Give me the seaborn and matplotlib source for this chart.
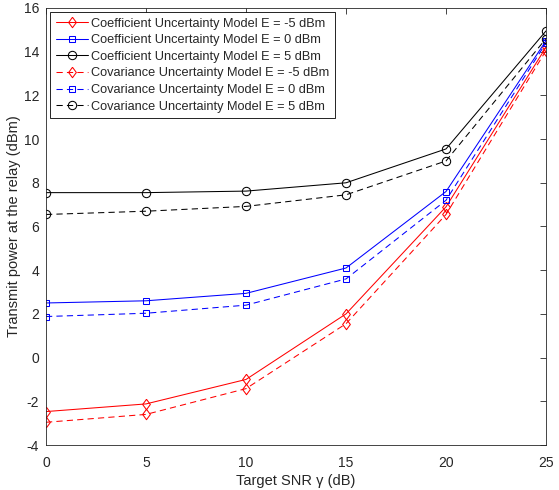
import numpy as np
import pandas as pd
import matplotlib
matplotlib.use("Agg")
import matplotlib.pyplot as plt
import seaborn as sns

snr = [0, 5, 10, 15, 20, 25]
coef_m5 = [-2.47, -2.12, -1.0, 2.0, 6.9, 14.2]
coef_0 = [2.5, 2.6, 2.94, 4.1, 7.6, 14.5]
coef_5 = [7.55, 7.55, 7.62, 8.0, 9.55, 14.95]
cov_m5 = [-2.96, -2.6, -1.42, 1.55, 6.55, 14.05]
cov_0 = [1.88, 2.03, 2.4, 3.6, 7.2, 14.4]
cov_5 = [6.55, 6.7, 6.92, 7.45, 9.0, 14.6]

labels = [
    "Coefficient Uncertainty Model E = -5 dBm",
    "Coefficient Uncertainty Model E = 0 dBm",
    "Coefficient Uncertainty Model E = 5 dBm",
    "Covariance Uncertainty Model E = -5 dBm",
    "Covariance Uncertainty Model E = 0 dBm",
    "Covariance Uncertainty Model E = 5 dBm",
]
series = [coef_m5, coef_0, coef_5, cov_m5, cov_0, cov_5]
colors = ["#ff0000", "#0000ff", "#000000", "#ff0000", "#0000ff", "#000000"]

# matlab-like markers: taller-than-wide diamond, square, circle
diamond = [(0, 1), (0.74, 0), (0, -1), (-0.74, 0), (0, 1)]
markers = [diamond, "s", "o", diamond, "s", "o"]
msizes = [7.5, 5, 6, 7.5, 5, 6]
dash = (0, (4.5, 3))
styles = ["-", "-", "-", dash, dash, dash]

df = pd.DataFrame({
    "snr": snr * len(series),
    "power": np.concatenate(series),
    "model": np.repeat(labels, len(snr)),
})

sns.set_style("white")
plt.rcParams["font.family"] = ["Liberation Sans", "DejaVu Sans"]
plt.rcParams["axes.unicode_minus"] = False
plt.rcParams["lines.scale_dashes"] = False

fig = plt.figure(figsize=(5.59, 4.9), dpi=100)
ax = fig.add_axes([46 / 559, 45 / 490, 500 / 559, 437 / 490])

for lab, c, m, ms, ls in zip(labels, colors, markers, msizes, styles):
    sub = df[df["model"] == lab]
    sns.lineplot(data=sub, x="snr", y="power", ax=ax, color=c, marker=m,
                 linestyle=ls, linewidth=0.75, markersize=ms,
                 markerfacecolor="none", markeredgecolor=c, markeredgewidth=0.75,
                 label=lab)

ax.set_xlim(0, 25)
ax.set_ylim(-4, 16)
ax.set_xticks(range(0, 26, 5))
ax.set_yticks(range(-4, 17, 2))
ax.tick_params(direction="in", length=4, width=0.6, labelsize=10, top=True,
               right=True, colors="#262626")
ax.tick_params(axis="x", pad=8)
ax.tick_params(axis="y", pad=5)
for s in ax.spines.values():
    s.set_color("#262626")
    s.set_linewidth(0.6)
ax.set_xlabel("Target SNR γ (dB)", fontsize=10.5, labelpad=3)
ax.set_ylabel("Transmit power at the relay (dBm)", fontsize=10.5, labelpad=2)

leg = ax.legend(loc="upper left", fontsize=9.2, frameon=True, fancybox=False,
                edgecolor="black", framealpha=1, borderpad=0.45, labelspacing=0.36,
                handlelength=2.5, handletextpad=0.3, borderaxespad=0.3)
leg.get_frame().set_linewidth(0.6)

fig.savefig("out.png", dpi=100)
